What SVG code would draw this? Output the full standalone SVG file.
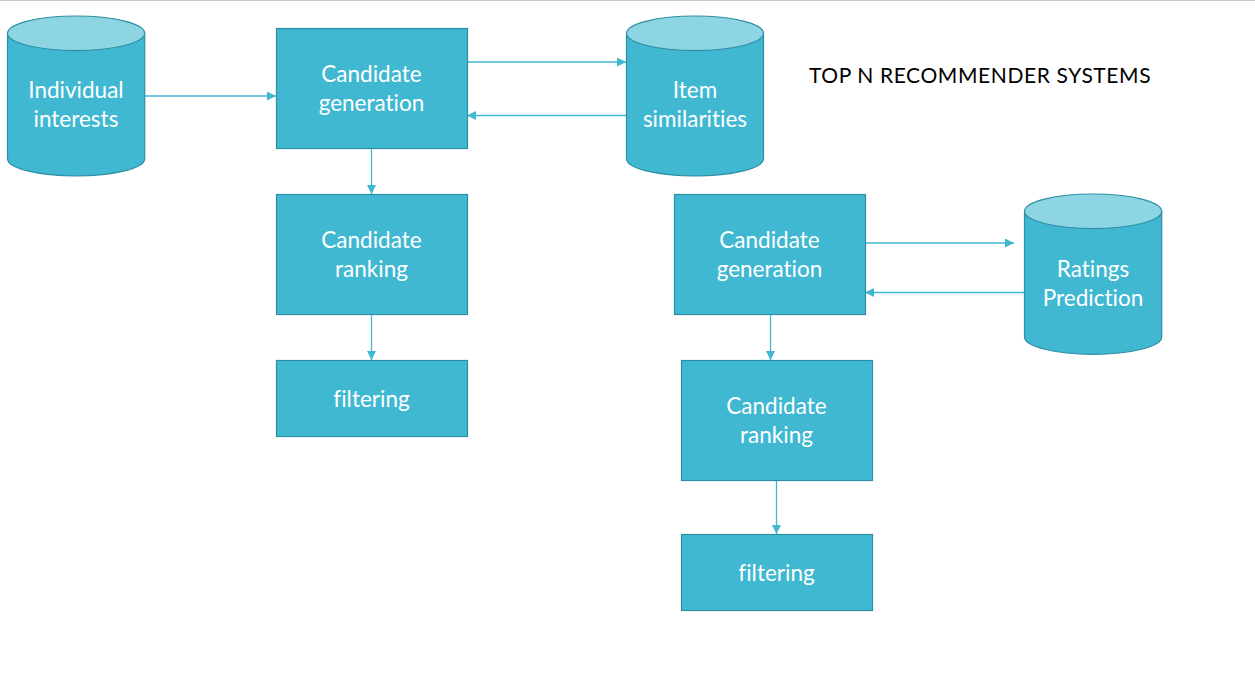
<svg xmlns="http://www.w3.org/2000/svg" width="1255" height="686" viewBox="0 0 1255 686">
<defs>
<style>
.box{fill:#40b8d2;stroke:#2e8ea5;stroke-width:1.2}
.cyl{fill:#40b8d2;stroke:#2e8ea5;stroke-width:1.2}
.top{fill:#8dd5e3;stroke:#2e8ea5;stroke-width:1.2}
.lbl{font-family:Lato,"Open Sans",sans-serif;font-size:22.5px;fill:#ffffff;text-anchor:middle;font-variant-ligatures:none}
.title{font-family:Lato,"Open Sans",sans-serif;font-size:21px;letter-spacing:0.6px;fill:#000000}
.conn{stroke:#40b8d2;stroke-width:1.3;fill:none;marker-end:url(#ah)}
</style>
<marker id="ah" viewBox="0 0 10 10" refX="10" refY="5" markerWidth="9" markerHeight="9" markerUnits="userSpaceOnUse" orient="auto">
<path d="M0,0 L10,5 L0,10 z" fill="#40b8d2"/>
</marker>
</defs>
<rect width="1255" height="686" fill="#ffffff"/>
<line x1="0" y1="0.5" x2="1255" y2="0.5" stroke="#c8c8c8" stroke-width="1.2"/>

<g id="connectors">
<line class="conn" x1="145" y1="96" x2="276" y2="96"/>
<line class="conn" x1="467" y1="62" x2="626" y2="62"/>
<line class="conn" x1="626" y1="115.5" x2="467" y2="115.5"/>
<line class="conn" x1="371.5" y1="148" x2="371.5" y2="194"/>
<line class="conn" x1="371.5" y1="314" x2="371.5" y2="360"/>
<line class="conn" x1="865" y1="243" x2="1014" y2="243"/>
<line class="conn" x1="1024" y1="292.5" x2="865" y2="292.5"/>
<line class="conn" x1="770.5" y1="314" x2="770.5" y2="360"/>
<line class="conn" x1="776.5" y1="480" x2="776.5" y2="534"/>
</g>

<g id="individual-interests">
<path class="cyl" d="M7.5,33.3 V158.7 A68.6,17.3 0 0 0 144.7,158.7 V33.3 Z"/>
<ellipse class="top" cx="76.1" cy="33.3" rx="68.6" ry="17.3"/>
<text class="lbl" x="76" y="97.5">Individual</text>
<text class="lbl" x="76" y="126.5">interests</text>
</g>

<g id="candidate-generation-1">
<rect class="box" x="276.5" y="28.5" width="191" height="120"/>
<text class="lbl" x="371.5" y="81.5">Candidate</text>
<text class="lbl" x="371.5" y="110.5">generation</text>
</g>

<g id="item-similarities">
<path class="cyl" d="M626.5,33.3 V158.7 A68.5,17.3 0 0 0 763.5,158.7 V33.3 Z"/>
<ellipse class="top" cx="695" cy="33.3" rx="68.5" ry="17.3"/>
<text class="lbl" x="695" y="97.5">Item</text>
<text class="lbl" x="695" y="126.5">similarities</text>
</g>

<g id="candidate-ranking-1">
<rect class="box" x="276.5" y="194.5" width="191" height="120"/>
<text class="lbl" x="371.5" y="247.5">Candidate</text>
<text class="lbl" x="371.5" y="276.5">ranking</text>
</g>

<g id="filtering-1">
<rect class="box" x="276.5" y="360.5" width="191" height="76"/>
<text class="lbl" x="371.5" y="406.5">filtering</text>
</g>

<g id="title">
<text class="title" x="809" y="83">TOP N RECOMMENDER SYSTEMS</text>
</g>

<g id="candidate-generation-2">
<rect class="box" x="674.5" y="194.5" width="191" height="120"/>
<text class="lbl" x="769.5" y="247.5">Candidate</text>
<text class="lbl" x="769.5" y="276.5">generation</text>
</g>

<g id="ratings-prediction">
<path class="cyl" d="M1024.5,211.3 V337 A68.6,17.3 0 0 0 1161.7,337 V211.3 Z"/>
<ellipse class="top" cx="1093.1" cy="211.3" rx="68.6" ry="17.3"/>
<text class="lbl" x="1093" y="276.5">Ratings</text>
<text class="lbl" x="1093" y="305.5">Prediction</text>
</g>

<g id="candidate-ranking-2">
<rect class="box" x="681.5" y="360.5" width="191" height="120"/>
<text class="lbl" x="776.5" y="413.5">Candidate</text>
<text class="lbl" x="776.5" y="442.5">ranking</text>
</g>

<g id="filtering-2">
<rect class="box" x="681.5" y="534.5" width="191" height="76"/>
<text class="lbl" x="776.5" y="580.5">filtering</text>
</g>
</svg>
